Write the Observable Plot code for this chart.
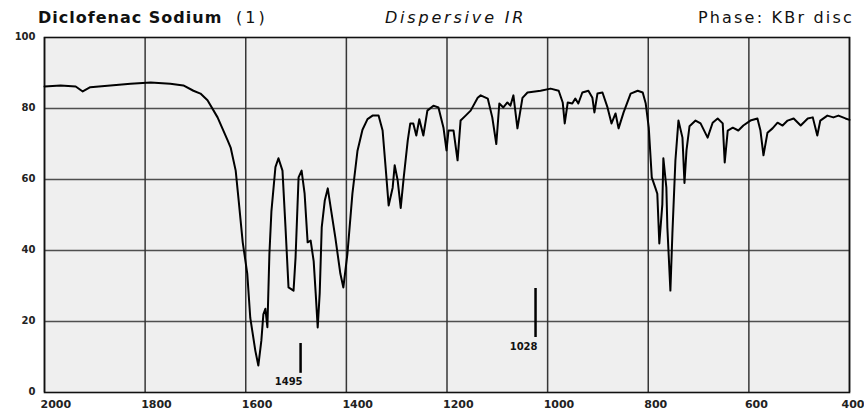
<!DOCTYPE html>
<html>
<head>
<meta charset="utf-8">
<script src="https://cdn.jsdelivr.net/npm/d3@7"></script>
<script src="https://cdn.jsdelivr.net/npm/@observablehq/plot@0.6"></script>
<style>
  html, body { margin: 0; padding: 0; background: #fff; }
  #wrap { width: 864px; height: 412px; position: relative; overflow: hidden; }
  #head { position: relative; width: 864px; height: 28px; font-family: "DejaVu Sans", sans-serif; color: #111; }
  #head span { position: absolute; top: 10px; line-height: 16px; font-size: 16px; white-space: nowrap; }
  #t1 { left: 38px; font-weight: bold; letter-spacing: 1px; }
  #t2 { left: 236px; letter-spacing: 3px; }
  #t3 { left: 385px; font-style: italic; letter-spacing: 2.8px; }
  #t4 { right: 10px; letter-spacing: 2.2px; }
  svg { display: block; }
</style>
</head>
<body>
<div id="wrap">
  <div id="head">
    <span id="t1">Diclofenac Sodium</span>
    <span id="t2">(1)</span>
    <span id="t3">Dispersive IR</span>
    <span id="t4">Phase: KBr disc</span>
  </div>
  <div id="chart"></div>
</div>
<script>
// Wavenumber (cm-1)
const wavenumber = [
  2000, 1968, 1938, 1924, 1909, 1869, 1829, 1789, 1750, 1724,
  1704, 1690, 1676, 1656, 1636, 1630, 1620, 1614, 1606, 1597,
  1591, 1581, 1575, 1569, 1565, 1561, 1557, 1553, 1549, 1541,
  1535, 1527, 1521, 1515, 1505, 1501, 1495, 1489, 1483, 1477,
  1471, 1465, 1461, 1457, 1453, 1449, 1443, 1437, 1430, 1422,
  1412, 1406, 1398, 1388, 1378, 1368, 1358, 1348, 1336, 1328,
  1322, 1316, 1308, 1304, 1298, 1292, 1286, 1278, 1273, 1267,
  1261, 1255, 1247, 1239, 1227, 1217, 1207, 1201, 1197, 1187,
  1179, 1173, 1163, 1153, 1139, 1133, 1119, 1110, 1102, 1096,
  1088, 1080, 1074, 1068, 1060, 1050, 1040, 1014, 994, 978,
  970, 966, 960, 951, 945, 939, 931, 919, 911, 907,
  901, 891, 881, 873, 865, 859, 849, 835, 821, 811,
  805, 799, 793, 786, 782, 778, 772, 770, 764, 762,
  756, 752, 746, 740, 732, 728, 724, 718, 706, 696,
  682, 672, 662, 652, 648, 642, 632, 621, 611, 597,
  583, 577, 571, 563, 553, 543, 533, 523, 511, 497,
  483, 473, 464, 458, 444, 432, 422, 408, 400
];
// % transmittance
const transmittance = [
  86.2, 86.5, 86.2, 84.8, 86.0, 86.5, 87.0, 87.3, 87.0, 86.5,
  85.0, 84.2, 82.3, 77.5, 71.0, 69.0, 62.5, 54.0, 42.3, 33.5,
  21.0, 11.8, 7.6, 14.6, 22.0, 23.6, 18.4, 39.0, 51.0, 63.5,
  66.0, 62.5, 46.5, 29.6, 28.7, 38.0, 60.6, 62.5, 56.0, 42.3,
  42.8, 37.0, 28.0, 18.3, 28.0, 46.5, 54.0, 57.5, 51.0, 43.7,
  33.5, 29.6, 39.0, 56.0, 68.0, 74.0, 77.0, 78.0, 78.0, 73.8,
  63.4, 52.7, 57.7, 64.0, 59.7, 52.0, 60.6, 71.0, 75.8, 75.8,
  72.4, 77.0, 72.4, 79.4, 80.8, 80.3, 74.6, 68.2, 73.8, 73.8,
  65.4, 76.6, 78.0, 79.4, 83.0, 83.7, 82.8, 77.5, 70.0, 81.4,
  80.3, 81.7, 80.8, 83.7, 74.4, 83.0, 84.5, 85.0, 85.6, 85.0,
  81.7, 75.8, 81.7, 81.4, 82.8, 81.4, 84.5, 85.0, 83.0, 78.9,
  84.2, 84.5, 80.3, 75.8, 78.6, 74.4, 78.9, 84.2, 85.0, 84.5,
  81.4, 74.6, 60.6, 57.7, 56.0, 42.0, 53.0, 66.0, 57.7, 46.5,
  28.7, 44.8, 65.4, 76.6, 71.8, 59.0, 68.2, 75.0, 76.6, 75.8,
  71.8, 76.0, 77.2, 75.8, 64.8, 73.8, 74.6, 73.8, 75.2, 76.6,
  77.2, 73.8, 66.8, 73.2, 74.4, 76.0, 75.2, 76.6, 77.2, 75.2,
  77.2, 77.5, 72.4, 76.6, 78.0, 77.5, 78.0, 77.2, 76.8
];
const xTicks = [2000, 1800, 1600, 1400, 1200, 1000, 800, 600, 400];
const yTicks = [0, 20, 40, 60, 80, 100];
const yGrid = [20, 40, 60, 80];

// Peak annotations
const peakWn = [1495, 1028];
const peakLabel = ["1495", "1028"];
const peakTop = [13.8, 29.3];
const peakBottom = [5.4, 15.5];
const peakLabelY = [3.1, 12.8];

const spectrum = wavenumber.map((w, i) => ({w, t: transmittance[i]}));
const peaks = peakWn.map((w, i) => ({w, label: peakLabel[i], y1: peakBottom[i], y2: peakTop[i], ly: peakLabelY[i]}));
const innerTicks = xTicks.filter(d => d !== 400);
const lastTick = xTicks.filter(d => d === 400);

const axisStyle = {anchor: "bottom", tickSize: 0, tickPadding: 8, fontSize: 11, fontWeight: "bold", fill: "#222", label: null, tickFormat: d => String(d), letterSpacing: 1.5};

const chart = Plot.plot({
  width: 864,
  height: 384,
  marginTop: 9,
  marginBottom: 20,
  marginLeft: 44,
  marginRight: 15,
  style: {fontFamily: "DejaVu Sans, sans-serif", background: "#fff", color: "#222"},
  x: {domain: [2000, 400]},
  y: {domain: [0, 100]},
  marks: [
    Plot.frame({fill: "#efefef"}),
    Plot.gridX(xTicks, {stroke: "#222", strokeOpacity: 0.9, strokeWidth: 1.5}),
    Plot.gridY(yGrid, {stroke: "#333", strokeOpacity: 0.85, strokeWidth: 1.5}),
    Plot.frame({stroke: "#111", strokeWidth: 1.6}),
    Plot.line(spectrum, {x: "w", y: "t", stroke: "#000", strokeWidth: 2, strokeLinejoin: "round"}),
    Plot.ruleX(peaks, {x: "w", y1: "y1", y2: "y2", stroke: "#000", strokeWidth: 2.5, dx: 2}),
    Plot.text(peaks, {x: "w", y: "ly", text: "label", textAnchor: "end", dx: 4, fontSize: 10, fontWeight: "bold", fill: "#111", letterSpacing: 1.5}),
    Plot.axisX(innerTicks, {...axisStyle, textAnchor: "start", dx: -4}),
    Plot.axisX(lastTick, {...axisStyle, textAnchor: "end", dx: 15, letterSpacing: 0.5}),
    Plot.axisY(yTicks, {anchor: "left", tickSize: 0, tickPadding: 9, dy: -1, fontSize: 10, fontWeight: "bold", fill: "#222", label: null, letterSpacing: 0.5})
  ]
});
document.getElementById("chart").appendChild(chart);
</script>
</body>
</html>
